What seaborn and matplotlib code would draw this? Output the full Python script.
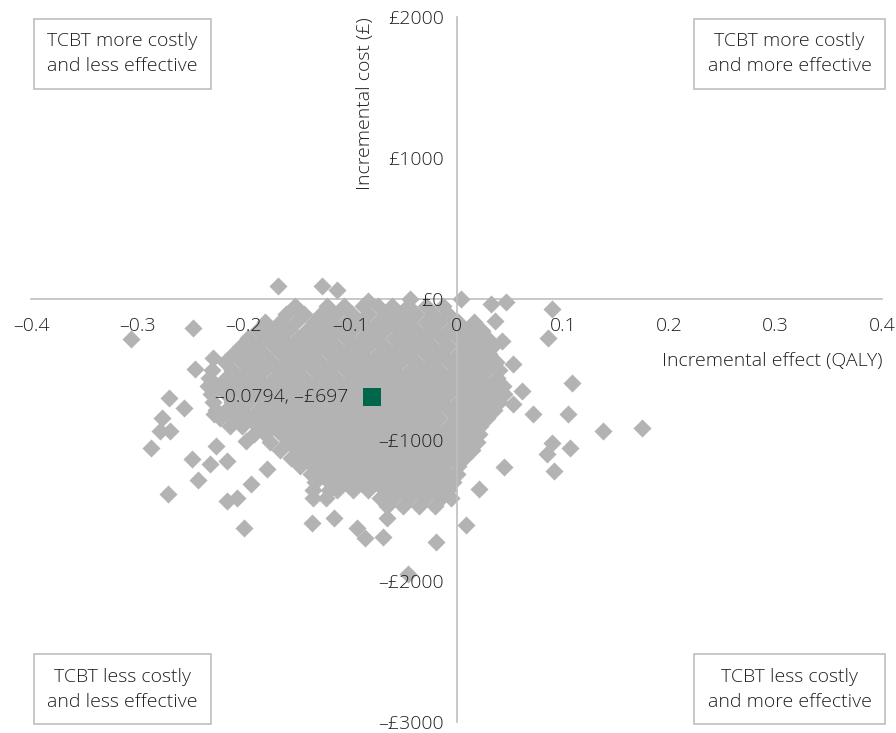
import pandas as pd
import seaborn as sns
import matplotlib.pyplot as plt
from matplotlib.ticker import FuncFormatter

#################
## Data read off the plane
#################
## dense bootstrap cloud, one cost level per row with the effects seen along it
row_cost = [-50, -105, -160, -220, -275, -335, -390, -445, -505, -560, -615, -675, -730,
            -785, -845, -900, -955, -1015, -1070, -1130, -1185, -1240, -1300, -1355, -1410, -1470]
row_effects = [
    [-0.152, -0.122, -0.106, -0.088, -0.074, -0.061, -0.046, -0.029, -0.013],
    [-0.160, -0.143, -0.127, -0.113, -0.098, -0.083, -0.066, -0.053, -0.038, -0.022, -0.008],
    [-0.180, -0.166, -0.151, -0.134, -0.120, -0.104, -0.091, -0.074, -0.060, -0.046, -0.029, -0.016, 0.001, 0.016],
    [-0.187, -0.173, -0.158, -0.141, -0.127, -0.112, -0.098, -0.082, -0.068, -0.051, -0.038, -0.022, -0.007, 0.008, 0.023],
    [-0.196, -0.180, -0.165, -0.149, -0.135, -0.121, -0.104, -0.089, -0.076, -0.059, -0.045, -0.031, -0.014, 0.001, 0.015, 0.029],
    [-0.203, -0.188, -0.172, -0.157, -0.143, -0.127, -0.113, -0.097, -0.083, -0.068, -0.052, -0.037, -0.023, -0.008, 0.008, 0.022, 0.034],
    [-0.210, -0.195, -0.181, -0.164, -0.150, -0.136, -0.119, -0.105, -0.091, -0.074, -0.060, -0.046, -0.029, -0.015, 0.001, 0.015, 0.031],
    [-0.218, -0.202, -0.187, -0.173, -0.158, -0.142, -0.128, -0.112, -0.098, -0.082, -0.067, -0.053, -0.038, -0.022, -0.007, 0.007, 0.023, 0.037],
    [-0.230, -0.211, -0.195, -0.181, -0.166, -0.150, -0.134, -0.121, -0.104, -0.090, -0.075, -0.061, -0.044, -0.030, -0.016, 0.000, 0.015, 0.029, 0.040],
    [-0.233, -0.217, -0.203, -0.188, -0.172, -0.158, -0.143, -0.127, -0.113, -0.097, -0.083, -0.068, -0.052, -0.038, -0.022, -0.008, 0.008, 0.022, 0.038],
    [-0.234, -0.225, -0.210, -0.196, -0.180, -0.165, -0.151, -0.135, -0.120, -0.105, -0.091, -0.075, -0.060, -0.045, -0.031, -0.015, 0.000, 0.015, 0.030, 0.044],
    [-0.231, -0.217, -0.202, -0.188, -0.172, -0.157, -0.143, -0.127, -0.112, -0.098, -0.082, -0.067, -0.053, -0.037, -0.022, -0.008, 0.008, 0.023, 0.038, 0.045],
    [-0.229, -0.211, -0.196, -0.180, -0.166, -0.150, -0.135, -0.121, -0.105, -0.090, -0.076, -0.060, -0.045, -0.030, -0.015, 0.001, 0.015, 0.030, 0.040],
    [-0.226, -0.217, -0.203, -0.187, -0.172, -0.158, -0.142, -0.127, -0.113, -0.097, -0.083, -0.067, -0.053, -0.037, -0.022, -0.007, 0.007, 0.022, 0.035],
    [-0.222, -0.210, -0.195, -0.180, -0.166, -0.150, -0.135, -0.120, -0.105, -0.090, -0.075, -0.061, -0.045, -0.030, -0.016, 0.000, 0.015, 0.029],
    [-0.213, -0.202, -0.188, -0.172, -0.158, -0.142, -0.127, -0.112, -0.098, -0.082, -0.068, -0.052, -0.037, -0.023, -0.007, 0.008, 0.022],
    [-0.190, -0.180, -0.165, -0.150, -0.135, -0.121, -0.105, -0.090, -0.075, -0.060, -0.046, -0.030, -0.015, 0.000, 0.015, 0.021],
    [-0.175, -0.158, -0.142, -0.128, -0.112, -0.097, -0.083, -0.067, -0.053, -0.037, -0.022, -0.008, 0.008, 0.019],
    [-0.166, -0.150, -0.135, -0.120, -0.105, -0.090, -0.075, -0.060, -0.045, -0.030, -0.015, 0.000, 0.015],
    [-0.156, -0.142, -0.128, -0.112, -0.097, -0.083, -0.068, -0.052, -0.038, -0.022, -0.007, 0.007],
    [-0.147, -0.135, -0.120, -0.105, -0.090, -0.075, -0.060, -0.045, -0.030, -0.015, 0.001],
    [-0.137, -0.127, -0.112, -0.097, -0.083, -0.068, -0.052, -0.038, -0.022, -0.008, 0.000],
    [-0.133, -0.120, -0.105, -0.090, -0.075, -0.060, -0.045, -0.030, -0.015, -0.003],
    [-0.135, -0.120, -0.112, -0.097, -0.083, -0.068, -0.052, -0.038, -0.022, -0.008],
    [-0.135, -0.123, -0.072, -0.060, -0.045, -0.030, -0.015, -0.005],
    [-0.065, -0.050, -0.035, -0.020],
]

## stray replicates outside the dense cloud
stray_effect = [-0.168, -0.126, -0.112, -0.083, -0.044, 0.004, 0.032, 0.047, 0.090,
                0.015, 0.024, 0.036, 0.043, 0.086, 0.053, 0.062, 0.053, 0.072, 0.109, 0.105,
                0.090, 0.107, 0.085, 0.092, 0.138, 0.174, 0.045, 0.021, 0.009,
                -0.136, -0.115, -0.094, -0.086, -0.069, -0.065, -0.019, -0.046,
                -0.306, -0.248, -0.229, -0.246, -0.270, -0.256, -0.277, -0.228, -0.279, -0.269,
                -0.287, -0.249, -0.243, -0.271, -0.226, -0.232, -0.216, -0.198, -0.178, -0.193,
                -0.216, -0.206, -0.200]
stray_cost = [92, 92, 64, -14, 0, 0, -35, -21, -71,
              -191, -227, -156, -298, -277, -461, -652, -745, -816, -596, -816,
              -1021, -1057, -1099, -1220, -936, -915, -1191, -1348, -1603,
              -1589, -1553, -1624, -1695, -1688, -1553, -1723, -1950,
              -284, -206, -418, -496, -702, -773, -844, -816, -936, -936,
              -1057, -1135, -1284, -1383, -1043, -1170, -1149, -1007, -1206, -1312,
              -1433, -1411, -1624]

mean_effect = -0.0794
mean_cost = -697

x_ticks = [-0.4, -0.3, -0.2, -0.1, 0, 0.1, 0.2, 0.3, 0.4]
y_ticks = [-3000, -2000, -1000, 0, 1000, 2000]
quadrant_text = ["TCBT more costly\nand less effective", "TCBT more costly\nand more effective",
                 "TCBT less costly\nand less effective", "TCBT less costly\nand more effective"]

effect = [e for row in row_effects for e in row] + stray_effect
cost = [c for c, row in zip(row_cost, row_effects) for e in row] + stray_cost
boot_df = pd.DataFrame({'effect': effect, 'cost': cost})
mean_df = pd.DataFrame({'effect': [mean_effect], 'cost': [mean_cost]})

#################
## Plot
#################
sns.set_theme(style='white')
plt.rcParams['font.family'] = ['Open Sans', 'DejaVu Sans']
plt.rcParams['font.weight'] = 'light'
txt_col = '#231f20'
line_col = '#bfbfbf'
fs = 14

fig = plt.figure(figsize=(8.96, 7.33), dpi=100)
ax = fig.add_axes([31/896, 11/733, 851/896, 705/733])

sns.scatterplot(data=boot_df, x='effect', y='cost', marker='D', s=85, color='#b3b3b3',
                linewidth=0, legend=False, ax=ax, zorder=1)
sns.scatterplot(data=mean_df, x='effect', y='cost', marker='s', s=185, color='#00674a',
                linewidth=0, legend=False, ax=ax, zorder=4)

ax.set_xlim(-0.4, 0.4)
ax.set_ylim(-3000, 2000)
ax.set_xlabel('')
ax.set_ylabel('')

## spines through the origin
for side in ['top', 'right']:
    ax.spines[side].set_visible(False)
ax.spines['left'].set_position(('data', 0))
ax.spines['bottom'].set_position(('data', 0))
for side in ['left', 'bottom']:
    ax.spines[side].set_color(line_col)
    ax.spines[side].set_linewidth(1.2)
ax.spines['bottom'].set_zorder(0.5)
ax.spines['left'].set_zorder(3)

ax.set_xticks(x_ticks)
ax.set_yticks(y_ticks)
ax.xaxis.set_major_formatter(FuncFormatter(
    lambda v, p: '0' if abs(v) < 1e-9 else ('\u2013' if v < 0 else '') + f'{abs(v):.1f}'))
ax.yaxis.set_major_formatter(FuncFormatter(
    lambda v, p: ('\u2013' if v < 0 else '') + f'£{abs(v):.0f}'))
ax.tick_params(axis='both', direction='out', length=5, width=1.1, color=line_col,
               labelsize=fs, labelcolor=txt_col)
ax.tick_params(axis='x', pad=8)
ax.tick_params(axis='y', pad=4)
ax.xaxis.set_zorder(3)
ax.yaxis.set_zorder(3)

ax.text(0.4, -440, 'Incremental effect (QALY)', ha='right', va='center', fontsize=fs, color=txt_col)
ax.text(-0.0856, 2000, 'Incremental cost (£)', rotation=90, ha='center', va='top', fontsize=fs, color=txt_col)

ax.annotate(f'\u2013{abs(mean_effect):.4f}, \u2013£{abs(mean_cost):.0f}', (mean_effect, mean_cost),
            xytext=(-17, 0), textcoords='offset points', ha='right', va='center',
            fontsize=fs, color=txt_col, zorder=5)

## quadrant boxes
quad_pos = [(-0.314, 1740), (0.313, 1740), (-0.314, -2768), (0.313, -2768)]
for (qx, qy), label in zip(quad_pos, quadrant_text):
    ax.text(qx, qy, label, ha='center', va='center', fontsize=fs, color=txt_col,
            linespacing=1.5, zorder=5,
            bbox=dict(boxstyle='square,pad=0.7', fc='white', ec=line_col, lw=1.2))

plt.savefig('out.png', dpi=100)
plt.close()
